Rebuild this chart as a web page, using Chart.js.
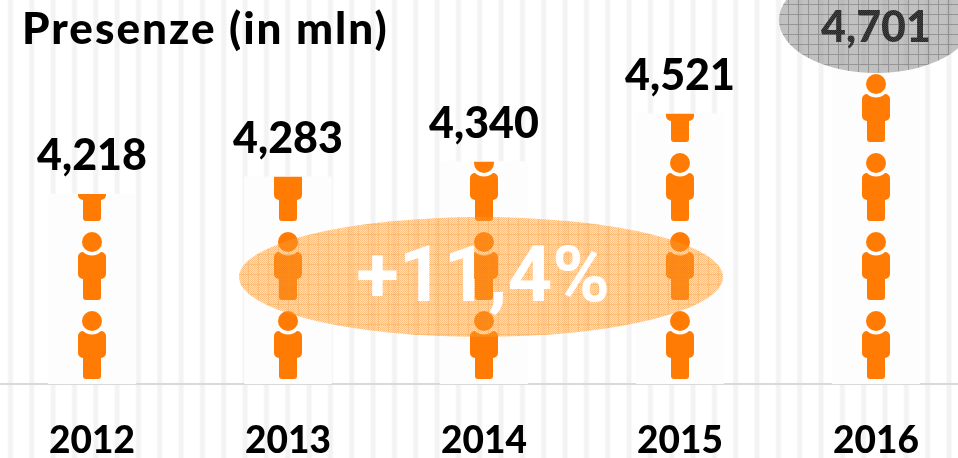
<!DOCTYPE html>
<html>
<head>
<meta charset="utf-8">
<title>Presenze</title>
<script src="https://cdn.jsdelivr.net/npm/chart.js@4"></script>
<style>
  html,body{margin:0;padding:0;width:958px;height:458px;overflow:hidden;background:#fff}
  /* righe verticali chiare dello sfondo */
  body{background-image:repeating-linear-gradient(90deg,#fff 0,#fff 7px,#f3f3f3 9px,#f3f3f3 12px,#fff 14px,#fff 21.33px)}
  #grafico{position:absolute;left:-6px;top:0}
</style>
</head>
<body>
<canvas id="grafico" width="980" height="458"></canvas>
<script>
const anni = ["2012","2013","2014","2015","2016"];
const presenze = [4218,4283,4340,4521,4701];
const etichette = ["4,218","4,283","4,340","4,521","4,701"];
const titolo = "Presenze (in mln)";
const crescita = "+11,4%";

const ARANCIO = "#ff7b03";
const SFONDO_BARRA = "#fdfdfd";
const PASSO_OMINO = 79;

// tassello retinato per le due ellissi
function retino(c1, c2, linea){
  const t = document.createElement("canvas"); t.width = 10; t.height = 10;
  const g = t.getContext("2d");
  for(let y=0;y<10;y++) for(let x=0;x<10;x++){
    g.fillStyle = (x+y)%2 ? c1 : c2;
    g.fillRect(x,y,1,1);
  }
  g.clearRect(0,4,10,1); g.clearRect(4,0,1,10);
  g.fillStyle = linea;
  g.fillRect(0,4,10,1); g.fillRect(4,0,1,4); g.fillRect(4,5,1,5);
  return t;
}

function omino(ctx, x, piede){
  ctx.fillStyle = ARANCIO;
  ctx.beginPath();
  ctx.roundRect(x-14, piede-48, 28, 27, 5);
  ctx.roundRect(x-9, piede-30, 18, 30, 3);
  ctx.fill();
  ctx.fillStyle = SFONDO_BARRA;
  ctx.beginPath(); ctx.arc(x, piede-58, 13.5, 0, Math.PI*2); ctx.fill();
  ctx.fillStyle = ARANCIO;
  ctx.beginPath(); ctx.arc(x, piede-58, 10, 0, Math.PI*2); ctx.fill();
}

const pittogrammi = {
  id:"pittogrammi",
  afterDatasetsDraw(chart){
    const ctx = chart.ctx;
    const barre = chart.getDatasetMeta(0).data;
    const fondo = chart.chartArea.bottom;
    barre.forEach(b=>{
      ctx.save();
      ctx.beginPath();
      ctx.rect(b.x-b.width/2, b.y, b.width, fondo-b.y);
      ctx.clip();
      for(let piede=fondo-5; piede>b.y; piede-=PASSO_OMINO) omino(ctx, b.x, piede);
      ctx.restore();
    });

    // valori sopra le barre
    ctx.save();
    ctx.fillStyle = "#000";
    ctx.font = "900 43px Lato";
    ctx.textAlign = "center"; ctx.textBaseline = "middle";
    barre.forEach((b,i)=>ctx.fillText(etichette[i], b.x, b.y-38));
    ctx.textAlign = "left";
    ctx.font = "900 44px Lato";
    ctx.letterSpacing = "2px";
    ctx.fillText(titolo, 28, 30);
    ctx.letterSpacing = "0px";

    // ellissi
    const mezzo = chart.scales.x.getPixelForValue(2);
    ctx.fillStyle = ctx.createPattern(retino("rgba(255,150,50,.3)","rgba(255,150,50,.6)","rgba(250,150,30,.62)"),"repeat");
    ctx.beginPath(); ctx.ellipse(mezzo-3, 277, 242, 60, 0, 0, Math.PI*2); ctx.fill();
    ctx.fillStyle = ctx.createPattern(retino("rgba(100,100,100,.38)","rgba(130,130,130,.52)","rgba(80,80,80,.6)"),"repeat");
    ctx.beginPath(); ctx.ellipse(barre[4].x, 20, 97, 53, 0, 0, Math.PI*2); ctx.fill();

    ctx.fillStyle = "#fff";
    ctx.textAlign = "center";
    ctx.font = "bold 78px Roboto";
    ctx.fillText(crescita, mezzo-1, 281);
    ctx.restore();
  }
};

new Chart(document.getElementById("grafico"),{
  type:"bar",
  data:{labels:anni,datasets:[{data:presenze,backgroundColor:SFONDO_BARRA,barThickness:87}]},
  options:{
    responsive:false,
    animation:false,
    devicePixelRatio:1,
    layout:{padding:0},
    plugins:{legend:{display:false},tooltip:{enabled:false},title:{display:false}},
    scales:{
      y:{display:false,min:3501,max:4950},
      x:{
        afterFit(s){ s.height = 74; },
        grid:{display:false,drawTicks:false},
        border:{color:"#d9d9d9",width:2},
        ticks:{color:"#000",padding:35,maxRotation:0,font:{family:"Lato",size:37,weight:"900"}}
      }
    }
  },
  plugins:[pittogrammi]
});
</script>
</body>
</html>
